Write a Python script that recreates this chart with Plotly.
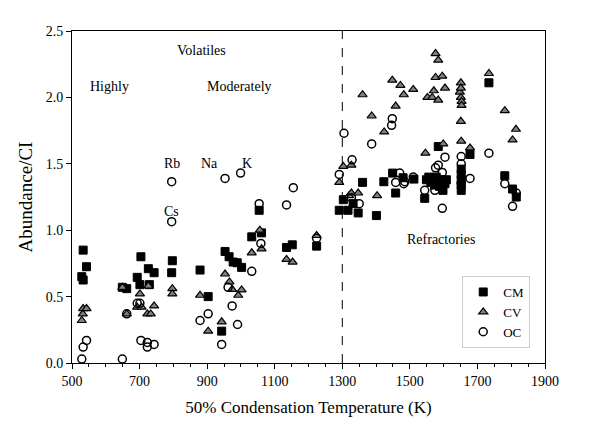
import plotly.graph_objects as go

# ---- data ----
cm_t = [533, 543, 529, 533, 649, 662, 704, 693, 701, 726, 743, 729, 797, 795, 879, 903, 943,
        953, 965, 977, 989, 1002, 1032, 1061, 1054, 1135, 1152, 1224, 1291, 1303, 1317, 1332,
        1347, 1360, 1401, 1423, 1449, 1458, 1480, 1512, 1544, 1549, 1556, 1562, 1568, 1573,
        1578, 1583, 1588, 1593, 1598, 1604, 1608, 1584, 1652, 1652, 1652, 1652, 1652, 1678,
        1734, 1781, 1804, 1815]
cm_v = [0.85, 0.725, 0.65, 0.625, 0.57, 0.56, 0.80, 0.645, 0.59, 0.71, 0.68, 0.59, 0.77, 0.68,
        0.70, 0.50, 0.24, 0.84, 0.80, 0.76, 0.755, 0.72, 0.95, 0.98, 1.15, 0.87, 0.89, 0.88,
        1.15, 1.23, 1.15, 1.20, 1.13, 1.36, 1.11, 1.365, 1.43, 1.28, 1.395, 1.385, 1.24, 1.38,
        1.40, 1.36, 1.38, 1.34, 1.40, 1.36, 1.33, 1.38, 1.30, 1.35, 1.38, 1.63, 1.30, 1.34,
        1.38, 1.42, 1.46, 1.57, 2.11, 1.41, 1.31, 1.25]

cv_t = [529, 532, 533, 543, 649, 662, 693, 701, 706, 723, 726, 733, 743, 797, 797, 879, 903,
        943, 953, 966, 974, 992, 1002, 1032, 1056, 1061, 1135, 1153, 1224, 1291, 1303, 1320,
        1327, 1327, 1347, 1360, 1387, 1403, 1424, 1448, 1458, 1472, 1482, 1510, 1546, 1552,
        1566, 1571, 1576, 1576, 1584, 1584, 1596, 1599, 1604, 1648, 1651, 1651, 1651, 1653,
        1653, 1651, 1652, 1678, 1734, 1781, 1804, 1814]
cv_v = [0.32, 0.37, 0.41, 0.41, 0.57, 0.37, 0.42, 0.52, 0.42, 0.37, 0.58, 0.37, 0.43, 0.56,
        0.52, 0.51, 0.24, 0.31, 0.67, 0.61, 0.555, 0.51, 0.55, 0.83, 1.00, 0.86, 0.78, 0.76,
        0.96, 1.36, 1.48, 1.26, 1.49, 1.28, 1.28, 2.02, 1.86, 1.26, 1.74, 2.13, 1.935, 2.09,
        2.02, 2.06, 1.58, 2.00, 2.00, 2.05, 2.15, 2.33, 2.28, 1.98, 2.16, 1.65, 2.07, 2.04,
        2.11, 2.07, 2.00, 1.97, 1.94, 1.82, 1.67, 1.62, 2.18, 1.90, 1.68, 1.76]

oc_t = [529, 533, 543, 649, 662, 693, 701, 704, 723, 723, 743, 795, 795, 879, 903, 943, 953,
        962, 974, 990, 999, 1032, 1054, 1059, 1135, 1155, 1224, 1291, 1305, 1327, 1329, 1350,
        1387, 1446, 1448, 1458, 1470, 1482, 1485, 1510, 1544, 1574, 1576, 1584, 1596, 1596,
        1604, 1652, 1652, 1652, 1678, 1734, 1781, 1804, 1815]
oc_v = [0.03, 0.12, 0.17, 0.03, 0.37, 0.45, 0.45, 0.17, 0.155, 0.12, 0.14, 1.064, 1.365,
        0.32, 0.37, 0.14, 1.39, 0.57, 0.43, 0.29, 1.43, 0.69, 1.20, 0.90, 1.19, 1.32, 0.94,
        1.42, 1.73, 1.245, 1.53, 1.20, 1.65, 1.79, 1.84, 1.36, 1.43, 1.35, 1.365, 1.40, 1.30,
        1.30, 1.47, 1.49, 1.435, 1.165, 1.55, 1.555, 1.50, 1.35, 1.39, 1.58, 1.35, 1.18, 1.28]

labels = ["Volatiles", "Highly", "Moderately", "Rb", "Na", "K", "Cs", "Refractories"]
label_t = [884, 610, 997, 795, 908, 1017, 795, 1592]
label_v = [2.35, 2.08, 2.08, 1.50, 1.50, 1.50, 1.14, 0.93]

FONT = "Liberation Serif, Times New Roman, serif"

fig = go.Figure()
fig.add_trace(go.Scatter(x=cm_t, y=cm_v, mode="markers", name="CM",
                         marker=dict(symbol="square", size=8, color="black",
                                     line=dict(color="black", width=1))))
fig.add_trace(go.Scatter(x=cv_t, y=cv_v, mode="markers", name="CV",
                         marker=dict(symbol="triangle-up", size=8, color="#808080",
                                     line=dict(color="black", width=1.2))))
fig.add_trace(go.Scatter(x=oc_t, y=oc_v, mode="markers", name="OC",
                         marker=dict(symbol="circle-open", size=8, color="black",
                                     line=dict(color="black", width=1.5))))

for txt, tx, ty in zip(labels, label_t, label_v):
    fig.add_annotation(x=tx, y=ty, text=txt, showarrow=False,
                       font=dict(family=FONT, size=14, color="black"))

fig.add_shape(type="line", x0=1300, x1=1300, y0=0, y1=2.5, xref="x", yref="y",
              line=dict(color="black", width=1, dash="dash"))

fig.update_layout(
    width=609, height=429,
    margin=dict(l=64, r=72, t=23, b=74),
    paper_bgcolor="white", plot_bgcolor="white",
    font=dict(family=FONT, size=14, color="black"),
    showlegend=True,
    legend=dict(x=0.825, y=0.262, xanchor="left", yanchor="top",
                bordercolor="#cfcfcf", borderwidth=1, bgcolor="white",
                font=dict(family=FONT, size=13), itemwidth=30,
                tracegroupgap=0),
)
fig.update_xaxes(range=[500, 1900], dtick=200, tick0=500, showgrid=False, zeroline=False,
                 showline=True, linecolor="black", linewidth=1, mirror=True,
                 ticks="outside", ticklen=5, tickcolor="black",
                 minor=dict(dtick=50, ticks="outside", ticklen=3, tickcolor="black"),
                 title=dict(text="50% Condensation Temperature (K)", font=dict(size=17),
                            standoff=13),
                 tickfont=dict(size=14))
fig.update_yaxes(range=[0, 2.5], dtick=0.5, tickformat=".1f", showgrid=False, zeroline=False,
                 showline=True, linecolor="black", linewidth=1, mirror=True,
                 ticks="outside", ticklen=5, tickcolor="black",
                 title=dict(text="Abundance/CI", font=dict(size=19), standoff=8),
                 tickfont=dict(size=14))

fig.write_html("out.html")
